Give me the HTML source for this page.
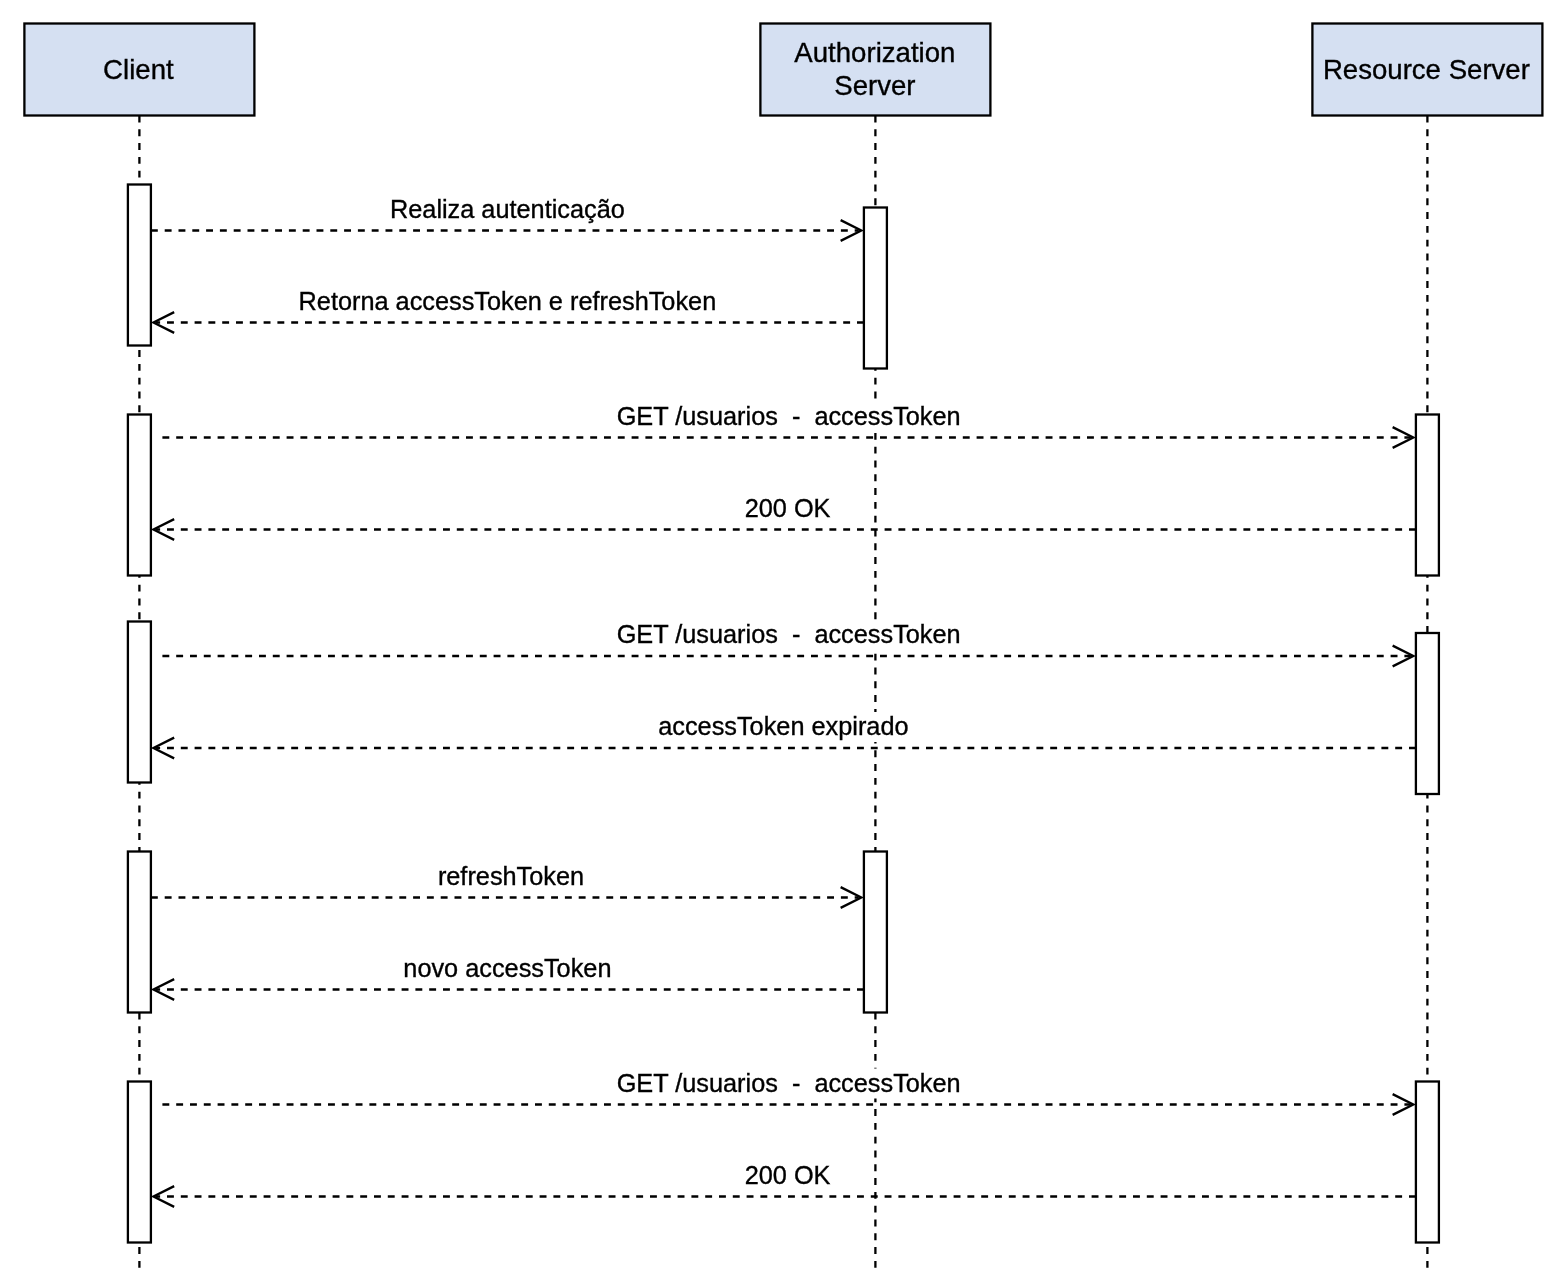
<!DOCTYPE html>
<html><head><meta charset="utf-8"><style>
html,body{margin:0;padding:0;background:#fff;}
svg{display:block;will-change:transform;}
.h{font-family:"Liberation Sans", sans-serif;font-size:27.6px;fill:#000;stroke:#000;stroke-width:0.35px;}
.l{font-family:"Liberation Sans", sans-serif;font-size:25.3px;fill:#000;stroke:#000;stroke-width:0.35px;white-space:pre;}
</style></head><body>
<svg width="1568" height="1274" viewBox="0 0 1568 1274">
<rect width="1568" height="1274" fill="#fff"/>
<line x1="139.40" y1="115.50" x2="139.40" y2="1284" stroke="#000" stroke-width="2.3" stroke-dasharray="6.9 6.9"/>
<line x1="875.40" y1="115.50" x2="875.40" y2="1284" stroke="#000" stroke-width="2.3" stroke-dasharray="6.9 6.9"/>
<line x1="1427.40" y1="115.50" x2="1427.40" y2="1284" stroke="#000" stroke-width="2.3" stroke-dasharray="6.9 6.9"/>
<rect x="24.40" y="23.50" width="230.00" height="92.00" fill="#d5e0f2" stroke="#000" stroke-width="2.3"/>
<rect x="760.40" y="23.50" width="230.00" height="92.00" fill="#d5e0f2" stroke="#000" stroke-width="2.3"/>
<rect x="1312.40" y="23.50" width="230.00" height="92.00" fill="#d5e0f2" stroke="#000" stroke-width="2.3"/>
<rect x="127.90" y="184.50" width="23.00" height="161.00" fill="#fff" stroke="#000" stroke-width="2.3"/>
<rect x="127.90" y="414.50" width="23.00" height="161.00" fill="#fff" stroke="#000" stroke-width="2.3"/>
<rect x="127.90" y="621.50" width="23.00" height="161.00" fill="#fff" stroke="#000" stroke-width="2.3"/>
<rect x="127.90" y="851.50" width="23.00" height="161.00" fill="#fff" stroke="#000" stroke-width="2.3"/>
<rect x="127.90" y="1081.50" width="23.00" height="161.00" fill="#fff" stroke="#000" stroke-width="2.3"/>
<rect x="863.90" y="207.50" width="23.00" height="161.00" fill="#fff" stroke="#000" stroke-width="2.3"/>
<rect x="863.90" y="851.50" width="23.00" height="161.00" fill="#fff" stroke="#000" stroke-width="2.3"/>
<rect x="1415.90" y="414.50" width="23.00" height="161.00" fill="#fff" stroke="#000" stroke-width="2.3"/>
<rect x="1415.90" y="633.00" width="23.00" height="161.00" fill="#fff" stroke="#000" stroke-width="2.3"/>
<rect x="1415.90" y="1081.50" width="23.00" height="161.00" fill="#fff" stroke="#000" stroke-width="2.3"/>
<line x1="150.90" y1="230.50" x2="858.76" y2="230.50" stroke="#000" stroke-width="2.3" stroke-dasharray="6.9 6.9"/>
<path d="M840.63 220.15 L861.33 230.50 L840.63 240.85" fill="none" stroke="#000" stroke-width="2.3" stroke-miterlimit="10"/>
<line x1="863.90" y1="322.50" x2="156.04" y2="322.50" stroke="#000" stroke-width="2.3" stroke-dasharray="6.9 6.9"/>
<path d="M174.17 312.15 L153.47 322.50 L174.17 332.85" fill="none" stroke="#000" stroke-width="2.3" stroke-miterlimit="10"/>
<line x1="162.40" y1="437.50" x2="1410.76" y2="437.50" stroke="#000" stroke-width="2.3" stroke-dasharray="6.9 6.9"/>
<path d="M1392.63 427.15 L1413.33 437.50 L1392.63 447.85" fill="none" stroke="#000" stroke-width="2.3" stroke-miterlimit="10"/>
<line x1="1415.90" y1="529.50" x2="156.04" y2="529.50" stroke="#000" stroke-width="2.3" stroke-dasharray="6.9 6.9"/>
<path d="M174.17 519.15 L153.47 529.50 L174.17 539.85" fill="none" stroke="#000" stroke-width="2.3" stroke-miterlimit="10"/>
<line x1="162.40" y1="656.00" x2="1410.76" y2="656.00" stroke="#000" stroke-width="2.3" stroke-dasharray="6.9 6.9"/>
<path d="M1392.63 645.65 L1413.33 656.00 L1392.63 666.35" fill="none" stroke="#000" stroke-width="2.3" stroke-miterlimit="10"/>
<line x1="1415.90" y1="748.00" x2="156.04" y2="748.00" stroke="#000" stroke-width="2.3" stroke-dasharray="6.9 6.9"/>
<path d="M174.17 737.65 L153.47 748.00 L174.17 758.35" fill="none" stroke="#000" stroke-width="2.3" stroke-miterlimit="10"/>
<line x1="150.90" y1="897.50" x2="858.76" y2="897.50" stroke="#000" stroke-width="2.3" stroke-dasharray="6.9 6.9"/>
<path d="M840.63 887.15 L861.33 897.50 L840.63 907.85" fill="none" stroke="#000" stroke-width="2.3" stroke-miterlimit="10"/>
<line x1="863.90" y1="989.50" x2="156.04" y2="989.50" stroke="#000" stroke-width="2.3" stroke-dasharray="6.9 6.9"/>
<path d="M174.17 979.15 L153.47 989.50 L174.17 999.85" fill="none" stroke="#000" stroke-width="2.3" stroke-miterlimit="10"/>
<line x1="162.40" y1="1104.50" x2="1410.76" y2="1104.50" stroke="#000" stroke-width="2.3" stroke-dasharray="6.9 6.9"/>
<path d="M1392.63 1094.15 L1413.33 1104.50 L1392.63 1114.85" fill="none" stroke="#000" stroke-width="2.3" stroke-miterlimit="10"/>
<line x1="1415.90" y1="1196.50" x2="156.04" y2="1196.50" stroke="#000" stroke-width="2.3" stroke-dasharray="6.9 6.9"/>
<path d="M174.17 1186.15 L153.47 1196.50 L174.17 1206.85" fill="none" stroke="#000" stroke-width="2.3" stroke-miterlimit="10"/>
<rect x="389.40" y="194.50" width="236.00" height="30" fill="#fff"/>
<text x="507.40" y="217.90" text-anchor="middle" class="l" xml:space="preserve">Realiza autenticação</text>
<rect x="297.40" y="286.50" width="420.00" height="30" fill="#fff"/>
<text x="507.40" y="309.90" text-anchor="middle" class="l" xml:space="preserve">Retorna accessToken e refreshToken</text>
<rect x="615.65" y="401.50" width="346.00" height="30" fill="#fff"/>
<text x="788.65" y="424.90" text-anchor="middle" class="l" xml:space="preserve">GET /usuarios  -  accessToken</text>
<rect x="742.60" y="493.50" width="90.00" height="30" fill="#fff"/>
<text x="787.60" y="516.90" text-anchor="middle" class="l" xml:space="preserve">200 OK</text>
<rect x="615.65" y="620.00" width="346.00" height="30" fill="#fff"/>
<text x="788.65" y="643.40" text-anchor="middle" class="l" xml:space="preserve">GET /usuarios  -  accessToken</text>
<rect x="656.40" y="712.00" width="254.00" height="30" fill="#fff"/>
<text x="783.40" y="735.40" text-anchor="middle" class="l" xml:space="preserve">accessToken expirado</text>
<rect x="437.00" y="861.50" width="148.00" height="30" fill="#fff"/>
<text x="511.00" y="884.90" text-anchor="middle" class="l" xml:space="preserve">refreshToken</text>
<rect x="402.40" y="953.50" width="210.00" height="30" fill="#fff"/>
<text x="507.40" y="976.90" text-anchor="middle" class="l" xml:space="preserve">novo accessToken</text>
<rect x="615.65" y="1068.50" width="346.00" height="30" fill="#fff"/>
<text x="788.65" y="1091.90" text-anchor="middle" class="l" xml:space="preserve">GET /usuarios  -  accessToken</text>
<rect x="742.60" y="1160.50" width="90.00" height="30" fill="#fff"/>
<text x="787.60" y="1183.90" text-anchor="middle" class="l" xml:space="preserve">200 OK</text>
<text x="138.40" y="79.2" text-anchor="middle" class="h">Client</text>
<text x="874.90" y="62" text-anchor="middle" class="h">Authorization</text>
<text x="874.90" y="95.2" text-anchor="middle" class="h">Server</text>
<text x="1426.40" y="79.2" text-anchor="middle" class="h">Resource Server</text>
</svg></body></html>
